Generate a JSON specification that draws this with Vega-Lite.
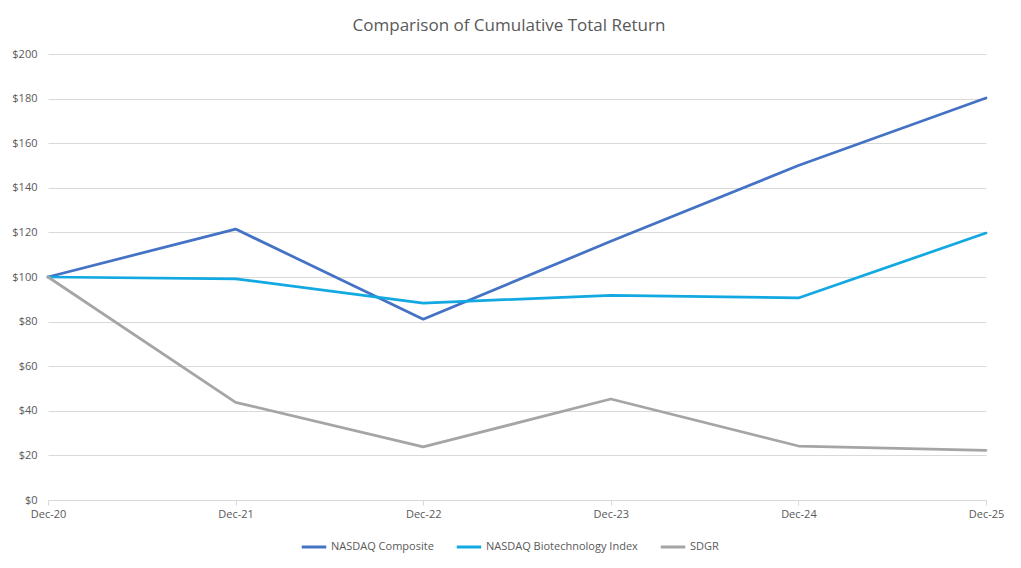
{
  "$schema": "https://vega.github.io/schema/vega-lite/v6.json",
  "autosize": "none",
  "width": 938,
  "height": 446,
  "padding": {"left": 48, "top": 54, "right": 35, "bottom": 68},
  "background": "white",
  "title": {
    "text": "Comparison of Cumulative Total Return",
    "fontSize": 17,
    "font": "Open Sans",
    "fontWeight": "normal",
    "color": "#595959",
    "anchor": "middle",
    "offset": 13,
    "dx": -8
  },
  "data": {
    "values": [
      {"period": "Dec-20", "series": "NASDAQ Composite", "value": 100},
      {"period": "Dec-21", "series": "NASDAQ Composite", "value": 121.5},
      {"period": "Dec-22", "series": "NASDAQ Composite", "value": 81.1},
      {"period": "Dec-23", "series": "NASDAQ Composite", "value": 116},
      {"period": "Dec-24", "series": "NASDAQ Composite", "value": 150},
      {"period": "Dec-25", "series": "NASDAQ Composite", "value": 180.3},
      {"period": "Dec-20", "series": "NASDAQ Biotechnology Index", "value": 100},
      {"period": "Dec-21", "series": "NASDAQ Biotechnology Index", "value": 99.2},
      {"period": "Dec-22", "series": "NASDAQ Biotechnology Index", "value": 88.3},
      {"period": "Dec-23", "series": "NASDAQ Biotechnology Index", "value": 91.8},
      {"period": "Dec-24", "series": "NASDAQ Biotechnology Index", "value": 90.6},
      {"period": "Dec-25", "series": "NASDAQ Biotechnology Index", "value": 119.7},
      {"period": "Dec-20", "series": "SDGR", "value": 100},
      {"period": "Dec-21", "series": "SDGR", "value": 43.8},
      {"period": "Dec-22", "series": "SDGR", "value": 23.8},
      {"period": "Dec-23", "series": "SDGR", "value": 45.3},
      {"period": "Dec-24", "series": "SDGR", "value": 24.2},
      {"period": "Dec-25", "series": "SDGR", "value": 22.3}
    ]
  },
  "mark": {"type": "line", "strokeWidth": 2.75, "strokeCap": "round", "strokeJoin": "round"},
  "encoding": {
    "x": {
      "field": "period",
      "type": "ordinal",
      "sort": null,
      "scale": {"type": "point", "padding": 0},
      "axis": {
        "title": null,
        "labelAngle": 0,
        "labelFont": "Open Sans",
        "labelFontSize": 11,
        "labelColor": "#595959",
        "domainColor": "#D9D9D9",
        "tickColor": "#D9D9D9",
        "tickSize": 5,
        "labelPadding": 3,
        "grid": false
      }
    },
    "y": {
      "field": "value",
      "type": "quantitative",
      "scale": {"domain": [0, 200], "nice": false},
      "axis": {
        "title": null,
        "values": [0, 20, 40, 60, 80, 100, 120, 140, 160, 180, 200],
        "format": "$,.0f",
        "labelFont": "Open Sans",
        "labelFontSize": 11,
        "labelColor": "#595959",
        "domain": false,
        "ticks": false,
        "labelPadding": 11,
        "gridColor": "#D9D9D9",
        "gridWidth": 1
      }
    },
    "color": {
      "field": "series",
      "type": "nominal",
      "scale": {
        "domain": ["NASDAQ Composite", "NASDAQ Biotechnology Index", "SDGR"],
        "range": ["#4472C4", "#12A8E2", "#A5A5A5"]
      },
      "legend": {
        "title": null,
        "orient": "none",
        "legendX": 252,
        "legendY": 479,
        "direction": "horizontal",
        "symbolType": "stroke",
        "symbolSize": 600,
        "symbolStrokeWidth": 3,
        "labelFont": "Open Sans",
        "labelFontSize": 11,
        "labelColor": "#595959",
        "columnPadding": 16,
        "labelOffset": 3
      }
    }
  },
  "config": {
    "view": {"stroke": null}
  }
}
